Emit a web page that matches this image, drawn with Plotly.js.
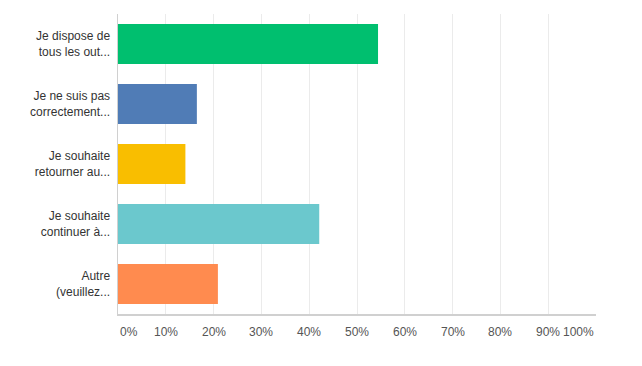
<!DOCTYPE html>
<html>
<head>
<meta charset="utf-8">
<script src="https://cdn.plot.ly/plotly-3.0.1.min.js"></script>
<style>html,body{margin:0;padding:0;background:#fff;}#chart{width:642px;height:366px;}</style>
</head>
<body>
<div id="chart"></div>
<script>
const categories = [
  "Je dispose de<br>tous les out...",
  "Je ne suis pas<br>correctement...",
  "Je souhaite<br>retourner au...",
  "Je souhaite<br>continuer à...",
  "Autre<br>(veuillez..."
];
const values = [54.4, 16.5, 14.1, 42.1, 20.9];
const barColors = ["#00BF6F", "#507CB6", "#F9BE00", "#6BC8CD", "#FF8B4F"];
const tickValues = [0, 10, 20, 30, 40, 50, 60, 70, 80, 90, 100];
const tickLabels = ["0%", "10%", "20%", "30%", "40%", "50%", "60%", "70%", "80%", "90%", "100%"];

const fontFam = "Liberation Sans, Arial, sans-serif";

const annotations = tickValues.map((v, i) => ({
  x: v, xref: "x", y: -0.06, yref: "paper",
  text: tickLabels[i], showarrow: false,
  xanchor: i === 0 ? "left" : (i === tickValues.length - 1 ? "right" : "center"),
  yanchor: "middle",
  font: {family: fontFam, size: 12, color: "#555"}
}));

Plotly.newPlot("chart", [{
  type: "bar",
  orientation: "h",
  x: values,
  y: categories,
  marker: {color: barColors},
  hoverinfo: "none"
}], {
  width: 642, height: 366,
  margin: {l: 117.5, r: 46, t: 14, b: 52, pad: 0},
  paper_bgcolor: "#fff", plot_bgcolor: "#fff",
  bargap: 0.333,
  showlegend: false,
  xaxis: {
    range: [0, 100], tickvals: tickValues, showticklabels: false,
    showgrid: true, gridcolor: "#ebebeb", gridwidth: 1,
    zeroline: false, showline: true, linecolor: "#d0d0d0", linewidth: 1.5,
    fixedrange: true
  },
  yaxis: {
    autorange: "reversed", type: "category",
    showgrid: false, zeroline: false, showline: true, linecolor: "#d0d0d0", linewidth: 1.5,
    ticks: "", ticklabelstandoff: 4,
    tickfont: {family: fontFam, size: 12, color: "#333"},
    fixedrange: true
  },
  annotations: annotations
}, {displayModeBar: false, staticPlot: true});
</script>
</body>
</html>
